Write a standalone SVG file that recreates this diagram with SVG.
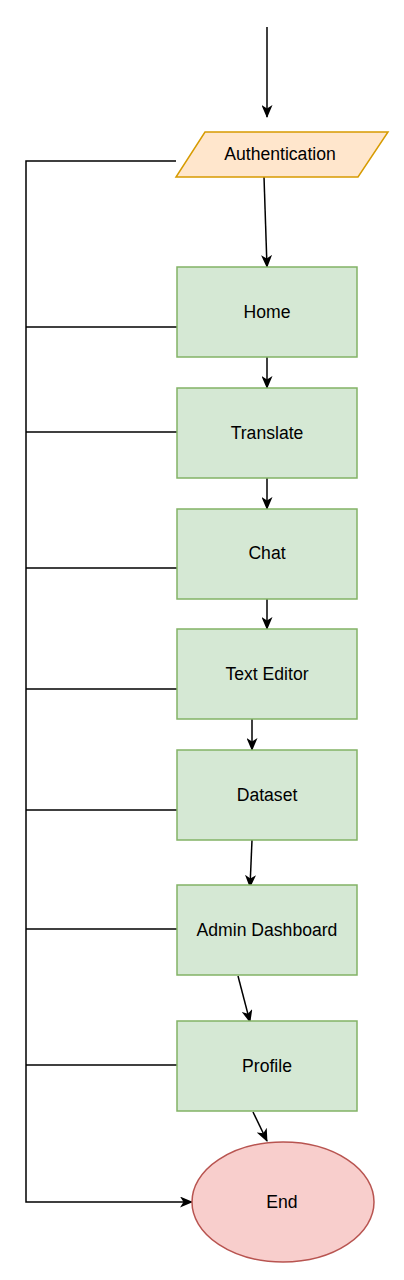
<svg xmlns="http://www.w3.org/2000/svg" width="404" height="1280" viewBox="0 0 404 1280">
<style>
.lbl{font-family:"Liberation Sans",Arial,sans-serif;font-size:17.6px;fill:#000;text-anchor:middle;dominant-baseline:central}
.box{fill:#d5e8d4;stroke:#82b366;stroke-width:1.5}
.ln{fill:none;stroke:#000;stroke-width:1.5}
.ar{fill:none;stroke:#000;stroke-width:1.5;marker-end:url(#ah)}
</style>
<defs>
<marker id="ah" viewBox="0 0 13 11" refX="12" refY="5.5" markerWidth="13" markerHeight="11" markerUnits="userSpaceOnUse" orient="auto">
<path d="M0,0 L13,5.5 L0,11 L3.5,5.5 Z" fill="#000"/>
</marker>
</defs>
<rect width="404" height="1280" fill="#fff"/>
<g id="connectors">
<line class="ar" x1="267" y1="27" x2="267" y2="117"/>
<line class="ar" x1="264" y1="177" x2="267" y2="267"/>
<line class="ar" x1="267" y1="357" x2="267" y2="388"/>
<line class="ar" x1="267" y1="478" x2="267" y2="509"/>
<line class="ar" x1="267" y1="599" x2="267" y2="629"/>
<line class="ar" x1="252" y1="719" x2="252" y2="750"/>
<line class="ar" x1="252" y1="840" x2="250" y2="887"/>
<line class="ar" x1="238" y1="976" x2="250" y2="1022"/>
<line class="ar" x1="253" y1="1112" x2="267" y2="1141"/>
<path class="ar" d="M176,161 H26 V1202 H192"/>
<line class="ln" x1="177" y1="327" x2="26" y2="327"/>
<line class="ln" x1="177" y1="432" x2="26" y2="432"/>
<line class="ln" x1="177" y1="568" x2="26" y2="568"/>
<line class="ln" x1="177" y1="689" x2="26" y2="689"/>
<line class="ln" x1="177" y1="810" x2="26" y2="810"/>
<line class="ln" x1="177" y1="929" x2="26" y2="929"/>
<line class="ln" x1="177" y1="1065" x2="26" y2="1065"/>
</g>
<g id="auth">
<polygon points="205,132 388,132 358,177 176,177" fill="#ffe6cc" stroke="#d79b00" stroke-width="1.5"/>
<text class="lbl" x="280" y="154">Authentication</text>
</g>
<g id="home"><rect class="box" x="177" y="267" width="180" height="90"/><text class="lbl" x="267" y="312">Home</text></g>
<g id="translate"><rect class="box" x="177" y="388" width="180" height="90"/><text class="lbl" x="267" y="433">Translate</text></g>
<g id="chat"><rect class="box" x="177" y="509" width="180" height="90"/><text class="lbl" x="267" y="553">Chat</text></g>
<g id="texteditor"><rect class="box" x="177" y="629" width="180" height="90"/><text class="lbl" x="267" y="674">Text Editor</text></g>
<g id="dataset"><rect class="box" x="177" y="750" width="180" height="90"/><text class="lbl" x="267" y="795">Dataset</text></g>
<g id="admin"><rect class="box" x="177" y="885" width="180" height="90"/><text class="lbl" x="267" y="930">Admin Dashboard</text></g>
<g id="profile"><rect class="box" x="177" y="1021" width="180" height="90"/><text class="lbl" x="267" y="1066">Profile</text></g>
<g id="end">
<ellipse cx="283" cy="1202" rx="91" ry="60" fill="#f8cecc" stroke="#b85450" stroke-width="1.5"/>
<text class="lbl" x="282" y="1202">End</text>
</g>
</svg>
